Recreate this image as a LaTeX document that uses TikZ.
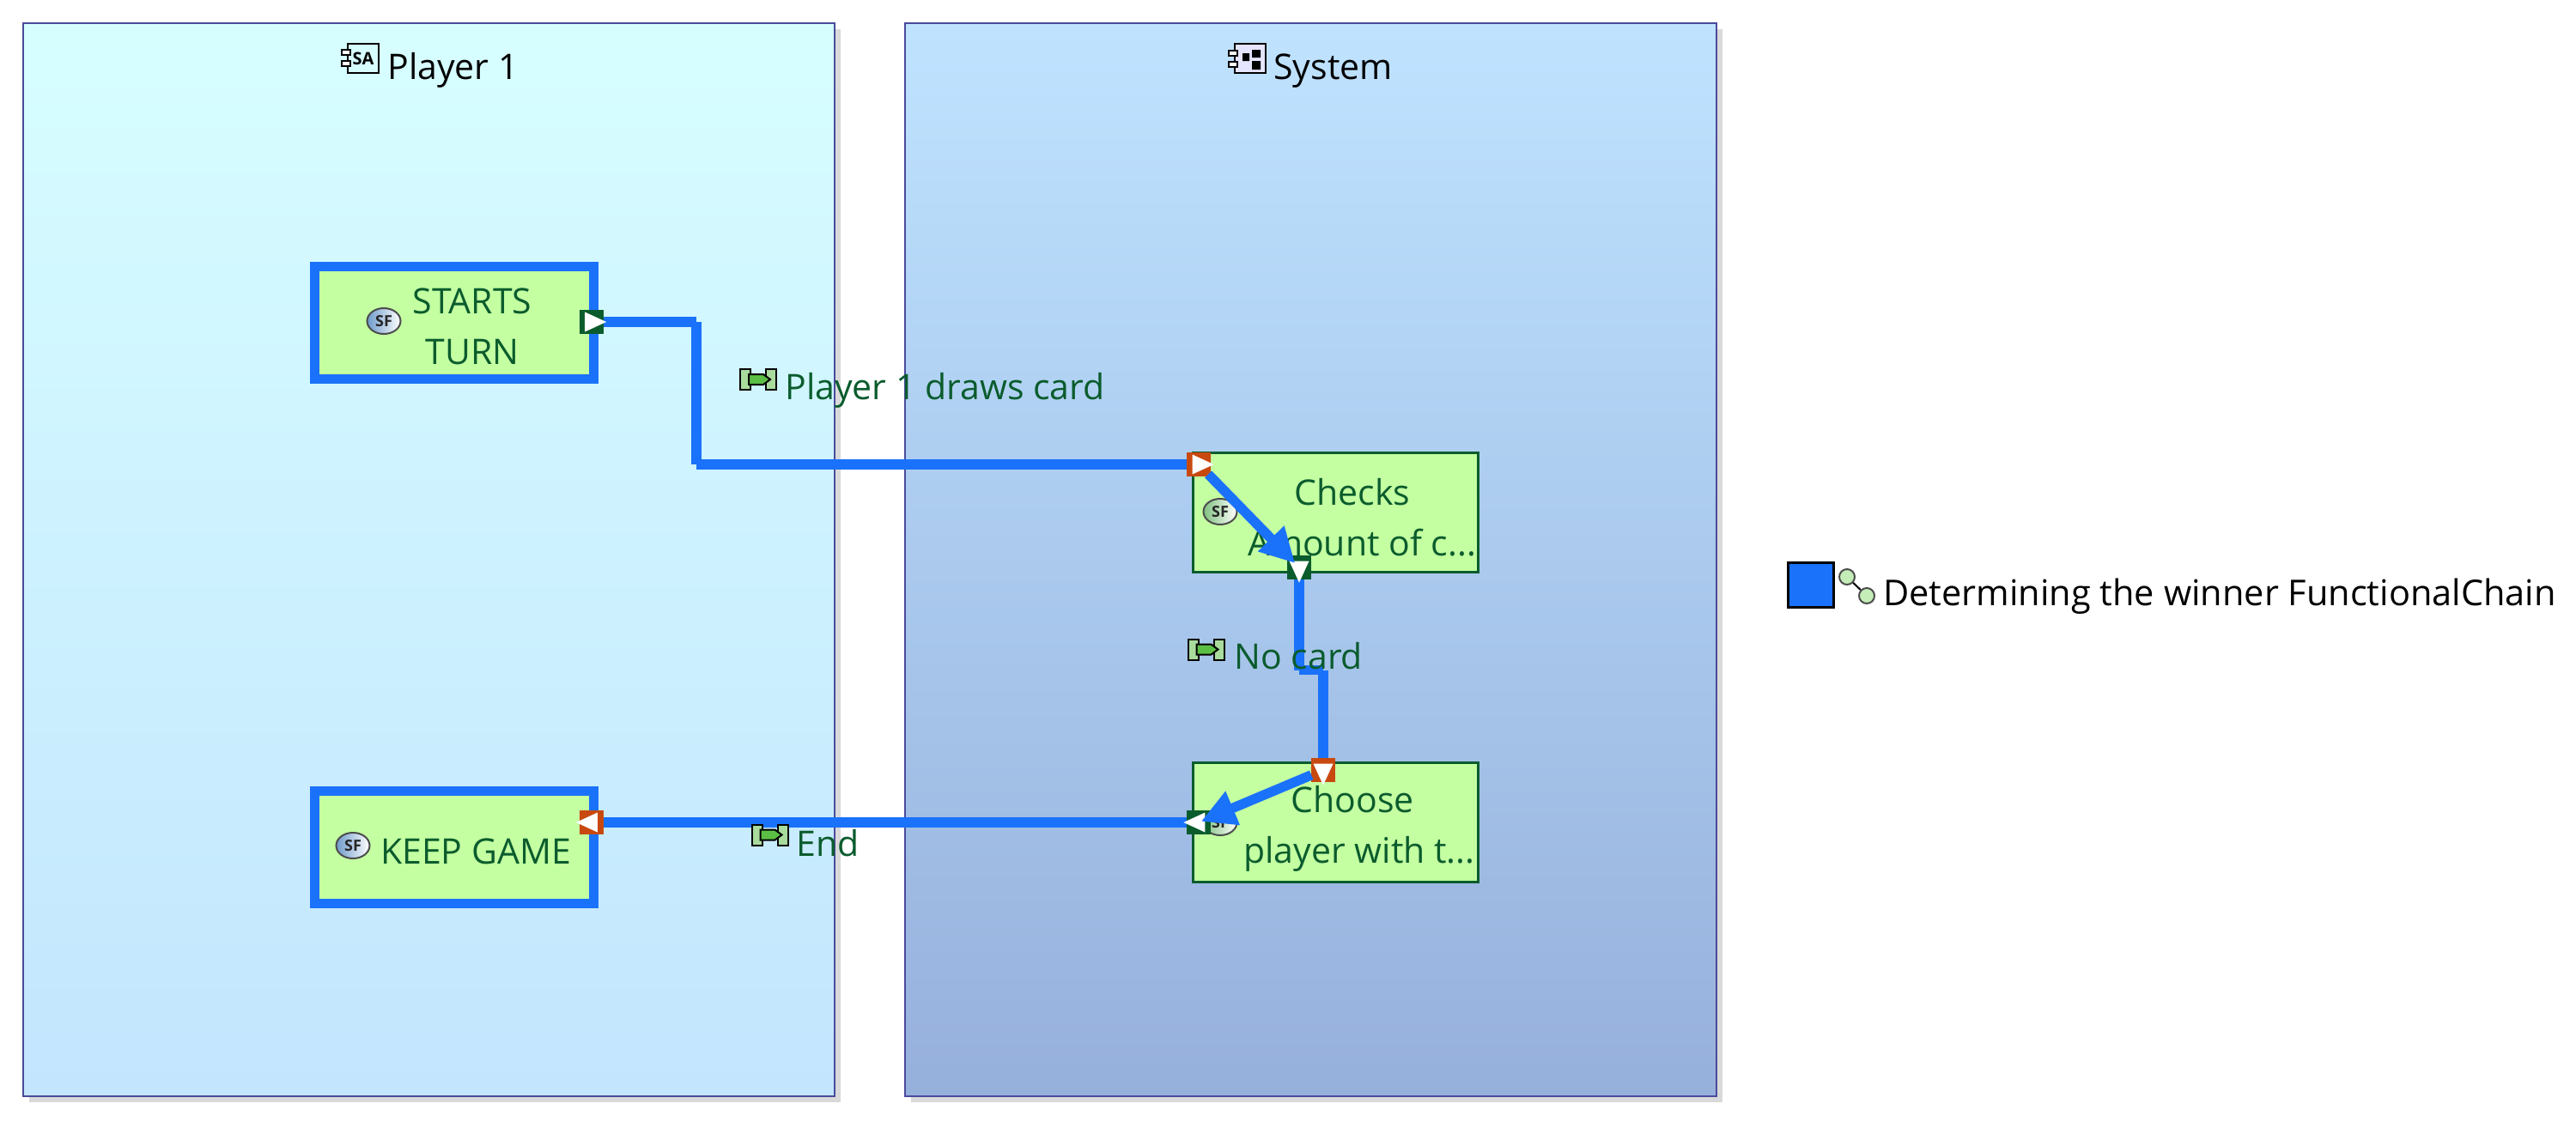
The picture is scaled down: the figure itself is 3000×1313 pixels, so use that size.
\documentclass[tikz,border=0pt]{standalone}
\usepackage{fontspec}
\setmainfont{Open Sans}
\usetikzlibrary{arrows.meta,shapes.geometric,shadows}

\definecolor{chainblue}{HTML}{1A72FA}
\definecolor{funcgreen}{HTML}{C4FFA2}
\definecolor{darkgreen}{HTML}{0B5C2D}
\definecolor{portred}{HTML}{C8490F}
\definecolor{panelline}{HTML}{4A4A9C}
\definecolor{playertop}{HTML}{D7FEFF}
\definecolor{playerbottom}{HTML}{C3E5FE}
\definecolor{systemtop}{HTML}{BFE3FF}
\definecolor{systembottom}{HTML}{96B0DC}
\definecolor{sfblue}{HTML}{6F9BCB}
\definecolor{sfgreen}{HTML}{7FC080}
\definecolor{bracketgreen}{HTML}{A9DB9D}
\definecolor{arrowgreen}{HTML}{5CBF45}
\definecolor{dotgreen}{HTML}{C4EDB8}

\begin{document}
\begin{tikzpicture}[x=0.5pt,y=-0.5pt]
    \tikzstyle{panel}=[rectangle,draw=panelline,line width=1.4pt,minimum width=472.5pt,minimum height=625pt,inner sep=0pt,
        drop shadow={shadow xshift=3.5pt,shadow yshift=-3.5pt,fill=black!15,opacity=1}]
    \tikzstyle{funcbox}=[rectangle,fill=funcgreen,inner sep=0pt]
    \tikzstyle{chosen}=[funcbox,draw=chainblue,line width=5.5pt,minimum width=162.5pt,minimum height=65.5pt]
    \tikzstyle{plain}=[funcbox,draw=darkgreen,line width=1.5pt,minimum width=166pt,minimum height=69.5pt]
    \tikzstyle{boxtext}=[align=center,inner sep=0pt,text=darkgreen,font=\fontsize{20.5}{29.5}\selectfont]
    \tikzstyle{greenlabel}=[anchor=base west,inner sep=0pt,text=darkgreen,font=\fontsize{20.5}{29.5}\selectfont]
    \tikzstyle{blacklabel}=[anchor=base west,inner sep=0pt,text=black,font=\fontsize{20.5}{29.5}\selectfont]
    \tikzstyle{sficon}=[ellipse,draw=black!70,line width=1pt,minimum width=19.5pt,minimum height=15pt,inner sep=0pt,
        text=black!85,font=\fontsize{9}{9}\selectfont\bfseries]
    \tikzstyle{port}=[rectangle,minimum size=14pt,inner sep=0pt]
    \tikzstyle{portmark}=[isosceles triangle,isosceles triangle stretches,fill=white,minimum width=11.5pt,minimum height=12.5pt,inner sep=0pt]
    \tikzstyle{flow}=[draw=chainblue,line width=5.7pt]
    \tikzstyle{flowarrow}=[flow,-{Triangle[length=20pt,width=20pt]}]

    \useasboundingbox (0,0) rectangle (3000,1313);

    % the two parts
    \node[panel,top color=playertop,bottom color=playerbottom] (player) at (499.5,652) {};
    \node[panel,top color=systemtop,bottom color=systembottom] (system) at (1526.5,652) {};

    % function boxes
    \node[chosen] (starts) at (529,376) {};
    \node[chosen] (keep) at (529,987) {};
    \node[plain] (checks) at (1555,597) {};
    \node[plain] (choose) at (1555,958) {};

    \node[boxtext] (starts-text) at (550,380) {STARTS\\TURN};
    \node[boxtext] (keep-text) at (554,992) {KEEP GAME};
    \node[boxtext] (checks-text) at (1586,603) {Checks\hspace*{11pt}\\Amount of c...};
    \node[boxtext] (choose-text) at (1583,965) {Choose\hspace*{8pt}\\player with t...};

    % SF icons
    \foreach \name/\x/\y/\col in {starts/447/374/sfblue, keep/411/985/sfblue, checks/1421/596/sfgreen, choose/1421/958/sfgreen}
        \node[sficon,left color=\col,right color=white] (sf-\name) at (\x,\y) {SF};

    % bends of the chain
    \coordinate (bend1) at (811,375);
    \coordinate (bend2) at (811,541);
    \coordinate (bend3) at (1513,780.5);
    \coordinate (bend4) at (1541,780.5);

    % ports
    \foreach \name/\x/\y in {startsout/688.5/375, keepin/688.5/958, checksin/1396/541, checksout/1513/661, choosein/1541/897, chooseout/1396/958}
        \coordinate (P-\name) at (\x,\y);

    \foreach \from/\to in {P-startsout/bend1, bend1/bend2, bend2/P-checksin, P-checksout/bend3, bend3/bend4, bend4/P-choosein, P-chooseout/P-keepin}
        \draw[flow] (\from) -- (\to);

    \foreach \name/\col/\rot in {startsout/darkgreen/0, keepin/portred/180, checksin/portred/0, checksout/darkgreen/-90, choosein/portred/-90, chooseout/darkgreen/180} {
        \node[port,fill=\col] (port-\name) at (P-\name) {};
        \node[portmark,rotate=\rot] (mark-\name) at (P-\name) {};
    }

    \draw[flowarrow,shorten <=8pt,shorten >=3.5pt] (port-checksin.center) -- (port-checksout.center);
    \draw[flowarrow,shorten <=7.5pt,shorten >=1.5pt] (port-choosein.center) -- (port-chooseout.center);

    % exchange labels
    \node[greenlabel] (draws) at (914,465) {Player 1 draws card};
    \node[greenlabel] (nocard) at (1437,779) {No card};
    \node[greenlabel] (endlabel) at (927,997) {End};

    \foreach \x/\y in {883/442, 1404.5/756.5, 896.5/972.5} {
        \begin{scope}[shift={(\x,\y)}]
            \filldraw[fill=bracketgreen,draw=black,line width=1pt] (-21,-12) rectangle (-9,12);
            \filldraw[fill=bracketgreen,draw=black,line width=1pt] (9,-12) rectangle (21,12);
            \filldraw[fill=arrowgreen,draw=black,line width=1pt] (-11,-6) -- (6,-6) -- (14,0) -- (6,6) -- (-11,6) -- cycle;
        \end{scope}
    }

    % part titles
    \node[blacklabel] (player-title) at (451,92) {Player 1};
    \node[blacklabel] (system-title) at (1483,92) {System};

    \node[rectangle,draw=black,line width=1pt,fill=playertop,minimum width=18pt,minimum height=17pt,inner sep=0pt,
        font=\fontsize{10}{10}\selectfont\bfseries] (sa-icon) at (423,68) {SA};
    \node[rectangle,draw=black,line width=1pt,fill=blue!10,minimum width=18pt,minimum height=17pt,inner sep=0pt] (sys-icon) at (1456,68) {};
    \fill[black] (1447,62) rectangle (1455,71) (1458,58) rectangle (1468,67) (1458,71) rectangle (1468,81);
    \foreach \x/\y in {403/61, 403/74, 1436/62, 1436/75}
        \filldraw[fill=white,draw=black,line width=1pt] (\x-5,\y-3) rectangle (\x+5,\y+3);

    % legend
    \node[rectangle,fill=chainblue,draw=black,line width=1.5pt,minimum width=26.5pt,minimum height=26pt,inner sep=0pt] (legend-box) at (2109,681.5) {};
    \node[circle,fill=dotgreen,draw=black!70,line width=1pt,minimum size=9pt,inner sep=0pt] (legend-a) at (2151,672) {};
    \node[circle,fill=dotgreen,draw=black!70,line width=1pt,minimum size=9pt,inner sep=0pt] (legend-b) at (2174,694) {};
    \draw[black,line width=1pt] (legend-a) -- (legend-b);
    \node[blacklabel,font=\fontsize{20.75}{29.5}\selectfont] (legend-text) at (2193,705) {Determining the winner FunctionalChain};
\end{tikzpicture}
\end{document}
